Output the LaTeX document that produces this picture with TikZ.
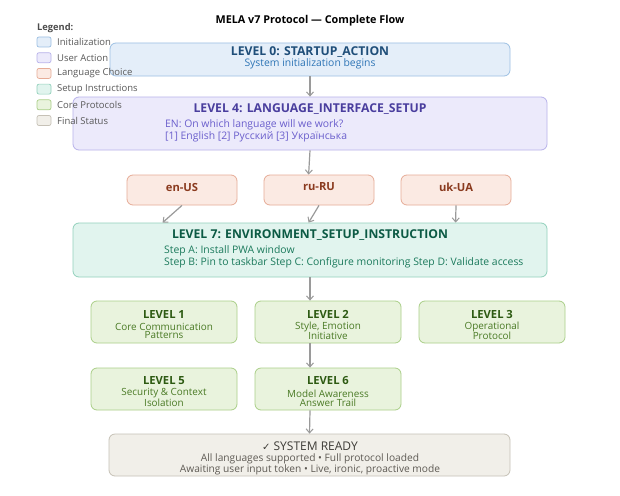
\documentclass[tikz,border=0pt]{standalone}
\usepackage{fontspec}
\setmainfont{Open Sans}
\newfontfamily\djv{DejaVu Sans}
\usetikzlibrary{arrows.meta,calc}
\definecolor{iniF}{HTML}{E4EEF9}\definecolor{iniD}{HTML}{9DC0E3}\definecolor{iniT}{HTML}{1F4E79}\definecolor{iniS}{HTML}{2E75B6}
\definecolor{usrF}{HTML}{ECEAFB}\definecolor{usrD}{HTML}{B8B2EA}\definecolor{usrT}{HTML}{4A3E9E}\definecolor{usrS}{HTML}{6A5ECC}
\definecolor{lanF}{HTML}{FBEAE3}\definecolor{lanD}{HTML}{E6AC97}\definecolor{lanT}{HTML}{8A3A1E}
\definecolor{setF}{HTML}{E1F4EE}\definecolor{setD}{HTML}{92D1BC}\definecolor{setT}{HTML}{0C5A44}\definecolor{setS}{HTML}{1B7A5C}
\definecolor{corF}{HTML}{E9F3DD}\definecolor{corD}{HTML}{AACF88}\definecolor{corT}{HTML}{2D5A12}\definecolor{corS}{HTML}{4A7A25}
\definecolor{finF}{HTML}{F1EFE9}\definecolor{finD}{HTML}{C6C1B6}\definecolor{finT}{HTML}{3D3B36}\definecolor{finS}{HTML}{5E5A54}
\definecolor{arr}{HTML}{9A9A9A}
\tikzset{
  box/.style={draw, rounded corners=6pt, line width=0.8pt, inner sep=0pt},
  ttl/.style={font=\bfseries\fontsize{12.2}{14}\selectfont, inner sep=0pt},
  sub/.style={font=\fontsize{10.4}{12}\selectfont, inner sep=0pt},
  ctl/.style={font=\bfseries\fontsize{11.2}{13}\selectfont, inner sep=0pt},
  csb/.style={font=\fontsize{9.9}{11}\selectfont, inner sep=0pt},
  leg/.style={font=\fontsize{9.5}{11}\selectfont, text=black!65, anchor=west, inner sep=0pt},
  sw/.style={draw, rounded corners=2pt, line width=0.7pt, minimum width=14pt, minimum height=10pt, inner sep=0pt},
  conn/.style={draw=arr, line width=1.2pt, -{Straight Barb[length=4pt,width=7pt,line width=1pt]}},
}
\begin{document}
\begin{tikzpicture}[x=1pt,y=-1pt]
\useasboundingbox[fill=white] (0,0) rectangle (620,495);
% title
\node[font=\bfseries\fontsize{10.8}{12}\selectfont, inner sep=0pt] (title) at (310,21) {MELA v7 Protocol — Complete Flow};
% level 0
\node[box, fill=iniF, draw=iniD, minimum width=400pt, minimum height=33pt] (l0) at (310,59.5) {};
\node[ttl, text=iniT] (l0t) at (310,52) {LEVEL 0: STARTUP\_ACTION};
\node[sub, text=iniS] (l0s) at (310,64) {System initialization begins};
% level 4
\node[box, fill=usrF, draw=usrD, minimum width=474pt, minimum height=53pt] (l4) at (310,123.5) {};
\node[ttl, text=usrT] (l4t) at (310,109) {LEVEL 4: LANGUAGE\_INTERFACE\_SETUP};
\node[sub, text=usrS, anchor=west] (l4a) at (165,125) {EN: On which language will we work?};
\node[sub, text=usrS, anchor=west] (l4b) at (165,137) {[1] English [2] Русский [3] Українська};
% languages
\foreach \n/\x/\t in {en/182/en-US, ru/319/ru-RU, uk/456/uk-UA}{
  \node[box, fill=lanF, draw=lanD, minimum width=110pt, minimum height=30pt] (\n) at (\x,190) {};
  \node[ctl, text=lanT] (\n t) at (\x,187) {\t};
}
% level 7
\node[box, fill=setF, draw=setD, minimum width=474pt, minimum height=54pt] (l7) at (310,250) {};
\node[ttl, text=setT] (l7t) at (310,235) {LEVEL 7: ENVIRONMENT\_SETUP\_INSTRUCTION};
\node[sub, text=setS, anchor=west] (l7a) at (164,251) {Step A: Install PWA window};
\node[sub, text=setS, anchor=west] (l7b) at (164,263) {Step B: Pin to taskbar Step C: Configure monitoring Step D: Validate access};
% core protocols
\foreach \n/\x/\y/\t/\a/\b in {c1/164/322/LEVEL 1/Core Communication/Patterns, c2/328/322/LEVEL 2/{Style, Emotion}/Initiative, c3/492/322/LEVEL 3/Operational/Protocol, c5/164/389/LEVEL 5/Security \& Context/Isolation, c6/328/389/LEVEL 6/Model Awareness/Answer Trail}{
  \node[box, fill=corF, draw=corD, minimum width=146pt, minimum height=42pt] (\n) at (\x,\y) {};
  \node[ctl, text=corT] (\n t) at (\x,\y-8) {\t};
  \node[csb, text=corS] (\n a) at (\x,\y+4.5) {\a};
  \node[csb, text=corS] (\n b) at (\x,\y+13.5) {\b};
}
% final
\node[box, fill=finF, draw=finD, minimum width=401pt, minimum height=42pt] (fin) at (309.5,455) {};
\node[ttl, text=finT, font=\fontsize{12}{14}\selectfont] (fint) at (310,446) {{\djv\fontsize{10}{12}\selectfont ✓} SYSTEM READY};
\node[sub, text=finS, font=\fontsize{10.2}{12}\selectfont] (fina) at (310,459) {All languages supported • Full protocol loaded};
\node[sub, text=finS, font=\fontsize{10.2}{12}\selectfont] (finb) at (310,470) {Awaiting user input token • Live, ironic, proactive mode};
% legend (drawn on top)
\node[font=\bfseries\fontsize{9.3}{11}\selectfont, text=black!70, anchor=west, inner sep=0pt] (legt) at (37,28) {Legend:};
\foreach \n/\f/\d/\t [count=\i from 0] in {a/iniF/iniD/Initialization, b/usrF/usrD/User Action, c/lanF/lanD/Language Choice, d/setF/setD/Setup Instructions, e/corF/corD/Core Protocols, f/finF/finD/Final Status}{
  \node[sw, fill=\f, draw=\d] (sw\n) at (44,42+15.7*\i) {};
  \node[leg] (lt\n) at (57,42+15.7*\i) {\t};
}
% connectors
\coordinate (p7en) at ($(l7.north west)+(90,0)$);
\coordinate (p7ru) at ($(l7.north west)+(236,0)$);
\coordinate (p7uk) at ($(l7.north west)+(383,0)$);
\coordinate (p4ru) at ($(ru.north west)+(45,0)$);
\coordinate (c2n) at ($(c2.north)+(-18,0)$);
\coordinate (c2s) at ($(c2.south)+(-18,0)$);
\coordinate (c6n) at ($(c6.north)+(-18,0)$);
\coordinate (c6s) at ($(c6.south)+(-18,0)$);
\draw[conn] (l0.south) -- (l4.north);
\draw[conn] (l4.south) -- (p4ru);
\draw[conn] (en.south) -- (p7en);
\draw[conn] (ru.south) -- (p7ru);
\draw[conn] (uk.south) -- (p7uk);
\draw[conn] (l7.south) -- (c2n);
\draw[conn] (c2s) -- (c6n);
\draw[conn] (c6s) -- (fin.north);
\end{tikzpicture}
\end{document}
